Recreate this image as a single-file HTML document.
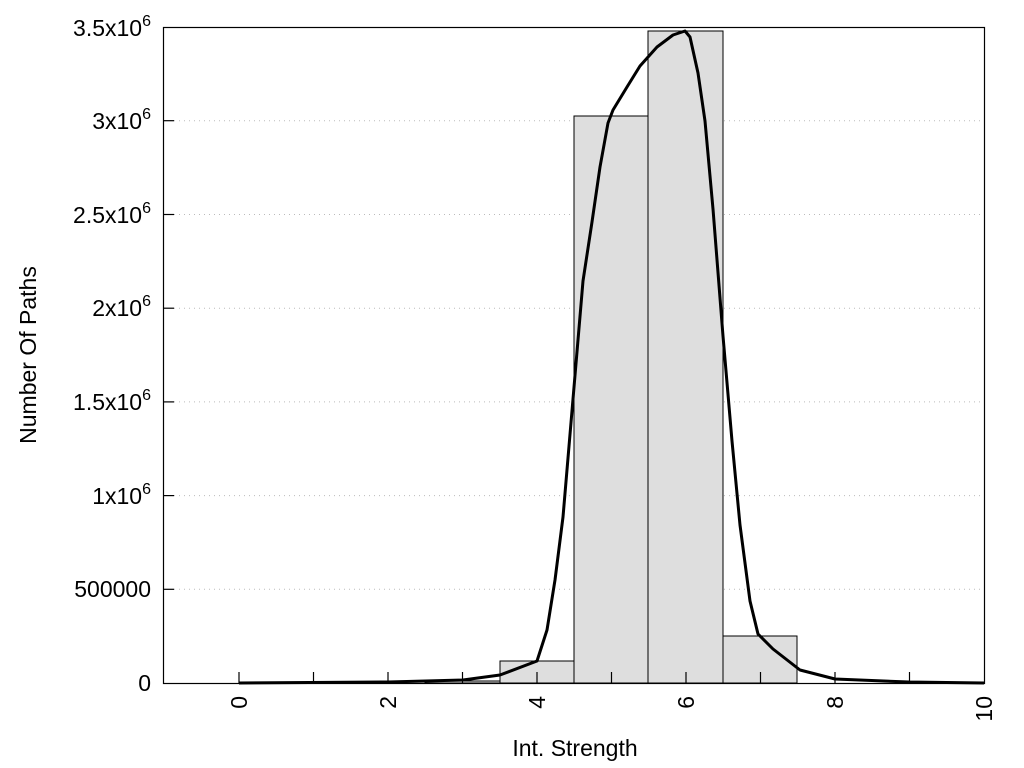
<!DOCTYPE html>
<html><head><style>body{margin:0;background:#fff}svg{display:block}text{font-family:"Liberation Sans",Arial,sans-serif;fill:#000}</style></head><body>
<svg width="1024" height="768" viewBox="0 0 1024 768">
<g stroke="#bbb" stroke-width="1" stroke-dasharray="1,4">
<line x1="174" x2="984" y1="589.3" y2="589.3"/><line x1="174" x2="984" y1="495.6" y2="495.6"/><line x1="174" x2="984" y1="401.9" y2="401.9"/><line x1="174" x2="984" y1="308.2" y2="308.2"/><line x1="174" x2="984" y1="214.5" y2="214.5"/><line x1="174" x2="984" y1="120.7" y2="120.7"/>
</g>
<g fill="#dedede" stroke="#000" stroke-width="1">
<rect x="500" y="661" width="74" height="22"/>
<rect x="574" y="116" width="74" height="567"/>
<rect x="648" y="31" width="75" height="652"/>
<rect x="723" y="636" width="74" height="47"/>
<rect x="425" y="681" width="75" height="2"/>
</g>
<g stroke="#000" stroke-width="1.2">
<line x1="239" x2="239" y1="683" y2="672"/><line x1="313.5" x2="313.5" y1="683" y2="672"/><line x1="388" x2="388" y1="683" y2="672"/><line x1="462.5" x2="462.5" y1="683" y2="672"/><line x1="537" x2="537" y1="683" y2="672"/><line x1="611.5" x2="611.5" y1="683" y2="672"/><line x1="686" x2="686" y1="683" y2="672"/><line x1="760.5" x2="760.5" y1="683" y2="672"/><line x1="835" x2="835" y1="683" y2="672"/><line x1="909.5" x2="909.5" y1="683" y2="672"/>
<line x1="164" x2="174" y1="589.3" y2="589.3"/><line x1="164" x2="174" y1="495.6" y2="495.6"/><line x1="164" x2="174" y1="401.9" y2="401.9"/><line x1="164" x2="174" y1="308.2" y2="308.2"/><line x1="164" x2="174" y1="214.5" y2="214.5"/><line x1="164" x2="174" y1="120.7" y2="120.7"/>
</g>
<polyline fill="none" stroke="#000" stroke-width="3" stroke-linejoin="round" points="239,683 388,682 463,680 500,675 537,661 547,630 555,580 563,517 573,399 583,281 592,222 600,167 608,123 613,110 627,87 640,66 657,47 673,35 685,31 690,37 698,73 705,121 713,209 723,336 732,441 740,525 750,601 758,634 773,649 800,670 835,679 909,682 984,683"/>
<rect x="163.5" y="27.5" width="821" height="656" fill="none" stroke="#000" stroke-width="1.2"/>
<g font-size="23" text-anchor="end">
<text x="151" y="691">0</text>
<text x="151" y="597">500000</text>
<text x="151" y="504">1x10<tspan font-size="16" dy="-10">6</tspan></text>
<text x="151" y="410">1.5x10<tspan font-size="16" dy="-10">6</tspan></text>
<text x="151" y="316">2x10<tspan font-size="16" dy="-10">6</tspan></text>
<text x="151" y="223">2.5x10<tspan font-size="16" dy="-10">6</tspan></text>
<text x="151" y="129">3x10<tspan font-size="16" dy="-10">6</tspan></text>
<text x="151" y="36">3.5x10<tspan font-size="16" dy="-10">6</tspan></text>
</g>
<g font-size="23" text-anchor="end">
<text transform="translate(247,696) rotate(-90)">0</text>
<text transform="translate(396,696) rotate(-90)">2</text>
<text transform="translate(545,696) rotate(-90)">4</text>
<text transform="translate(694,696) rotate(-90)">6</text>
<text transform="translate(843,696) rotate(-90)">8</text>
<text transform="translate(992,696) rotate(-90)">10</text>
</g>
<text x="575" y="756" font-size="23" text-anchor="middle">Int. Strength</text>
<text transform="translate(36,355) rotate(-90)" font-size="23" text-anchor="middle">Number Of Paths</text>
</svg>
</body></html>
